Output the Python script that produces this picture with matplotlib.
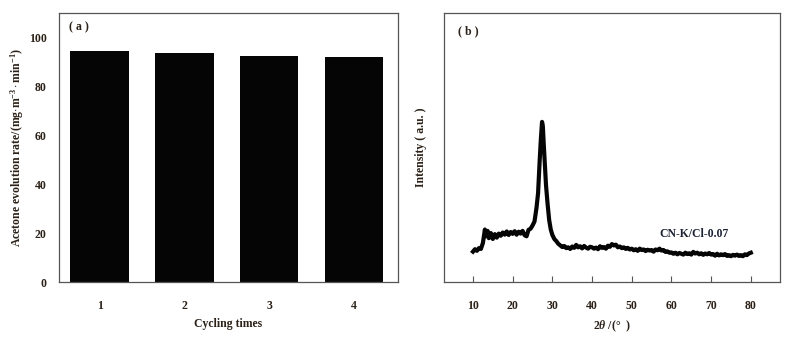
import matplotlib
matplotlib.use("Agg")
import matplotlib.pyplot as plt

# panel (a): cycling test
cycles = [1, 2, 3, 4]
rates = [94.3, 93.6, 92.2, 92.0]

# panel (b): XRD pattern of CN-K/Cl-0.07
two_theta = [10, 10.5, 11, 11.5, 12, 12.5, 13, 13.3, 13.7, 14, 14.5, 15, 15.5,
             16, 16.5, 17, 17.5, 18, 18.5, 19, 19.5, 20, 20.5, 21, 21.5, 22,
             22.5, 23, 23.5, 24, 24.5, 25, 25.5, 26, 26.4, 26.8, 27.1, 27.4,
             27.6, 27.8, 28.1, 28.4, 28.8, 29.2, 29.6, 30, 30.5, 31, 31.5, 32,
             32.5, 33, 33.5, 34, 34.5, 35, 35.5, 36, 36.5, 37, 37.5, 38, 38.5,
             39, 39.5, 40, 40.5, 41, 41.5, 42, 42.5, 43, 43.5, 44, 44.5, 45,
             45.5, 46, 46.5, 47, 47.5, 48, 48.5, 49, 49.5, 50, 50.5, 51, 51.5,
             52, 52.5, 53, 53.5, 54, 54.5, 55, 55.5, 56, 56.5, 57, 57.5, 58,
             58.5, 59, 59.5, 60, 60.5, 61, 61.5, 62, 62.5, 63, 63.5, 64, 64.5,
             65, 65.5, 66, 66.5, 67, 67.5, 68, 68.5, 69, 69.5, 70, 70.5, 71,
             71.5, 72, 72.5, 73, 73.5, 74, 74.5, 75, 75.5, 76, 76.5, 77, 77.5,
             78, 78.5, 79, 79.5, 80]
intensity = [11.3, 12.2, 11.6, 12.6, 12.3, 14.5, 19.5, 17.0, 19.0, 16.3, 18.2,
             16.0, 17.8, 16.5, 18.0, 17.2, 18.4, 17.6, 18.8, 17.5, 18.6, 17.9,
             18.9, 17.6, 18.7, 18.0, 19.0, 17.4, 17.0, 19.4, 19.8, 21.0, 22.5,
             27.5, 33.0, 45.0, 53.0, 59.5, 58.0, 52.0, 44.0, 36.0, 29.0, 23.0,
             19.5, 17.5, 16.0, 15.2, 14.2, 13.6,
             13.0, 13.4, 12.6, 12.9, 12.3, 13.2, 12.7, 13.8, 12.9, 13.3,
             12.5, 13.4, 12.8, 12.4, 13.1, 12.9, 12.4, 12.8, 12.2, 13.3,
             12.7, 13.0, 12.4, 13.5, 13.1, 14.1, 13.6, 13.9, 12.9, 13.2,
             12.6, 12.9, 12.3, 12.7, 12.1, 12.4, 11.8, 12.2, 11.6, 12.4,
             11.9, 12.1, 11.5, 12.0, 11.7, 11.9, 11.3, 12.1, 11.8, 12.4,
             11.7, 11.9, 11.2, 11.4, 10.9, 11.0, 10.5, 10.9, 10.3, 10.8,
             10.5, 10.2, 10.9, 10.4, 10.7, 10.2, 11.2, 10.6, 10.9, 10.3,
             10.7, 10.1, 10.6, 10.3, 10.8, 10.2, 10.4, 9.8, 10.5, 9.9,
             10.3, 10.0, 10.4, 9.7, 10.0, 9.6, 10.1, 9.8, 10.2, 9.7,
             10.0, 9.6, 10.3, 10.0, 10.6, 10.9]
xrd_ticks = [10, 20, 30, 40, 50, 60, 70, 80]

plt.rcParams['font.family'] = ['Liberation Serif', 'DejaVu Serif']
plt.rcParams['font.weight'] = 'bold'
plt.rcParams['axes.labelweight'] = 'bold'
plt.rcParams['mathtext.fontset'] = 'custom'
plt.rcParams['mathtext.it'] = 'Liberation Serif:italic:bold'
plt.rcParams['mathtext.rm'] = 'Liberation Serif:bold'

txt = '#2b2118'
spine_c = '#555555'
fs = 8.5

fig = plt.figure(figsize=(7.92, 3.39), dpi=100)
ax1 = fig.add_axes([0.0745, 0.168, 0.428, 0.794])
ax2 = fig.add_axes([0.5606, 0.168, 0.424, 0.794])

# (a) bars
ax1.bar(cycles, rates, width=0.69, color='#050505')
ax1.set_xlim(0.52, 4.52)
ax1.set_ylim(0, 110)
ax1.set_xticks(cycles)
ax1.set_yticks([0, 20, 40, 60, 80, 100])
ax1.tick_params(length=0, labelsize=fs, labelcolor=txt)
ax1.tick_params(axis='x', pad=13)
ax1.tick_params(axis='y', pad=9)
ax1.set_xlabel('Cycling times', fontsize=fs, color=txt, labelpad=4)
ax1.set_ylabel(r'Acetone evolution rate/(mg$\cdot$m$^{-3}\cdot$min$^{-1}$)',
               fontsize=fs, color=txt, labelpad=2)
ax1.text(0.03, 0.948, '( a )', transform=ax1.transAxes, fontsize=fs,
         color=txt, va='center', ha='left')

# (b) XRD
ax2.plot(two_theta, intensity, color='#050505', lw=3.0)
ax2.set_xlim(2.7, 87.3)
ax2.set_ylim(0, 100)
ax2.set_xticks(xrd_ticks)
ax2.set_yticks([])
ax2.tick_params(axis='x', direction='in', length=4, width=0.8,
                color=spine_c, labelsize=fs, labelcolor=txt, pad=13)
ax2.set_xlabel(r'2$\it{\theta}$ /(°  )', fontsize=fs, color=txt, labelpad=5)
ax2.set_ylabel('Intensity ( a.u. )', fontsize=fs, color=txt, labelpad=12)
ax2.text(0.042, 0.93, '( b )', transform=ax2.transAxes, fontsize=fs,
         color=txt, va='center', ha='left')
ax2.text(57, 17.7, 'CN-K/Cl-0.07', fontsize=fs, color='#1c2233',
         va='center', ha='left')

for ax in (ax1, ax2):
    for sp in ax.spines.values():
        sp.set_color(spine_c)
        sp.set_linewidth(0.9)

fig.savefig('out.png', dpi=100)
